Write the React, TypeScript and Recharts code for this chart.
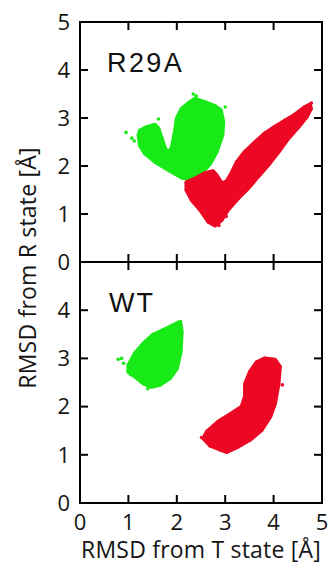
import React from 'react';
import { ScatterChart, Scatter, XAxis, YAxis } from 'recharts';

// ---- axis ticks ----
const xTicks = [0, 1, 2, 3, 4, 5];
const topYTicks = [0, 1, 2, 3, 4, 5];
const bottomYTicks = [0, 1, 2, 3, 4];
const frameYTicks = [0, 1, 2, 3, 4, 5];

// ---- R29A panel (top) ----
const r29aGreenOutline = [
  { x: 1.21, y: 2.64 }, { x: 1.24, y: 2.74 }, { x: 1.38, y: 2.81 }, { x: 1.55, y: 2.86 },
  { x: 1.62, y: 2.78 }, { x: 1.69, y: 2.57 }, { x: 1.76, y: 2.36 }, { x: 1.82, y: 2.29 },
  { x: 1.89, y: 2.36 }, { x: 1.95, y: 2.64 }, { x: 2.0, y: 2.99 }, { x: 2.1, y: 3.19 },
  { x: 2.27, y: 3.33 }, { x: 2.38, y: 3.4 }, { x: 2.58, y: 3.33 }, { x: 2.79, y: 3.25 },
  { x: 2.91, y: 3.16 }, { x: 2.96, y: 2.92 }, { x: 2.94, y: 2.64 }, { x: 2.82, y: 2.29 },
  { x: 2.69, y: 2.05 }, { x: 2.51, y: 1.85 }, { x: 2.31, y: 1.71 }, { x: 2.1, y: 1.76 },
  { x: 1.82, y: 1.92 }, { x: 1.55, y: 2.09 }, { x: 1.34, y: 2.26 }, { x: 1.24, y: 2.43 },
];
const r29aGreenStray = [
  { x: 0.95, y: 2.7 }, { x: 1.07, y: 2.58 }, { x: 1.62, y: 2.98 }, { x: 2.34, y: 3.5 },
  { x: 2.4, y: 3.46 }, { x: 3.0, y: 3.23 }, { x: 1.12, y: 2.52 },
];
const r29aRedOutline = [
  { x: 2.2, y: 1.66 }, { x: 2.38, y: 1.74 }, { x: 2.58, y: 1.85 }, { x: 2.75, y: 1.89 },
  { x: 2.82, y: 1.81 }, { x: 2.93, y: 1.64 }, { x: 3.03, y: 1.68 }, { x: 3.13, y: 1.85 },
  { x: 3.24, y: 2.08 }, { x: 3.41, y: 2.3 }, { x: 3.62, y: 2.5 }, { x: 3.82, y: 2.68 },
  { x: 4.03, y: 2.82 }, { x: 4.24, y: 2.95 }, { x: 4.44, y: 3.07 }, { x: 4.65, y: 3.23 },
  { x: 4.75, y: 3.28 }, { x: 4.77, y: 3.19 }, { x: 4.68, y: 3.02 }, { x: 4.51, y: 2.81 },
  { x: 4.3, y: 2.57 }, { x: 4.1, y: 2.29 }, { x: 3.89, y: 2.02 }, { x: 3.68, y: 1.78 },
  { x: 3.48, y: 1.54 }, { x: 3.27, y: 1.33 }, { x: 3.06, y: 1.09 }, { x: 2.93, y: 0.88 },
  { x: 2.79, y: 0.76 }, { x: 2.65, y: 0.84 }, { x: 2.48, y: 1.09 }, { x: 2.31, y: 1.29 },
  { x: 2.2, y: 1.5 },
];
const r29aRedStray = [
  { x: 4.78, y: 3.31 }, { x: 2.87, y: 0.76 }, { x: 3.02, y: 0.95 }, { x: 2.62, y: 1.8 },
];

// ---- WT panel (bottom) ----
const wtGreenOutline = [
  { x: 1.0, y: 2.86 }, { x: 1.14, y: 3.11 }, { x: 1.31, y: 3.31 }, { x: 1.51, y: 3.49 },
  { x: 1.72, y: 3.59 }, { x: 1.93, y: 3.69 }, { x: 2.07, y: 3.76 }, { x: 2.1, y: 3.55 },
  { x: 2.08, y: 3.14 }, { x: 2.0, y: 2.79 }, { x: 1.86, y: 2.59 }, { x: 1.65, y: 2.45 },
  { x: 1.48, y: 2.41 }, { x: 1.31, y: 2.48 }, { x: 1.14, y: 2.62 }, { x: 1.0, y: 2.72 },
];
const wtGreenStray = [
  { x: 0.79, y: 2.98 }, { x: 0.86, y: 3.0 }, { x: 0.9, y: 2.9 }, { x: 1.05, y: 2.66 },
  { x: 1.4, y: 2.37 },
];
const wtRedOutline = [
  { x: 3.82, y: 3.0 }, { x: 4.03, y: 2.97 }, { x: 4.13, y: 2.83 }, { x: 4.1, y: 2.47 },
  { x: 4.03, y: 2.07 }, { x: 3.93, y: 1.79 }, { x: 3.75, y: 1.51 }, { x: 3.51, y: 1.31 },
  { x: 3.27, y: 1.17 }, { x: 3.03, y: 1.06 }, { x: 2.89, y: 1.11 }, { x: 2.69, y: 1.19 },
  { x: 2.55, y: 1.34 }, { x: 2.62, y: 1.48 }, { x: 2.86, y: 1.69 }, { x: 3.13, y: 1.86 },
  { x: 3.34, y: 2.0 }, { x: 3.41, y: 2.21 }, { x: 3.41, y: 2.47 }, { x: 3.51, y: 2.72 },
  { x: 3.65, y: 2.92 },
];
const wtRedStray = [
  { x: 4.18, y: 2.45 }, { x: 2.51, y: 1.36 },
];

const GREEN = '#17ea17';
const RED = '#ec0824';
const AXIS_FONT = "'Open Sans', sans-serif";
const LABEL_FONT = "'Liberation Sans', Arial, sans-serif";
const TEXT = '#151515';
const TICK_LEN = 8;

const dot = (color: string) => (p: any) =>
  p.cx == null ? <g /> : <circle cx={p.cx} cy={p.cy} r={1.8} fill={color} />;

const axisLine = { stroke: '#000', strokeWidth: 2, strokeLinecap: 'square' as const };

// custom tick: draws the label (optional) and an inward tick mark
const makeTick = (side: 'left' | 'right' | 'top' | 'bottom', margin: number, showLabel: boolean) =>
  (props: any) => {
    const { x, y, payload } = props;
    let seg: any = null;
    if (side === 'left') seg = { x1: x + margin, x2: x + margin + TICK_LEN, y1: y, y2: y };
    if (side === 'right') seg = { x1: x - margin, x2: x - margin - TICK_LEN, y1: y, y2: y };
    if (side === 'bottom') seg = { x1: x, x2: x, y1: y - margin, y2: y - margin - TICK_LEN };
    if (side === 'top') seg = { x1: x, x2: x, y1: y + margin, y2: y + margin + TICK_LEN };
    return (
      <g>
        <line {...seg} stroke="#000" strokeWidth={2} />
        {showLabel && (
          <text
            x={x}
            y={y}
            dy={side === 'bottom' ? '0.71em' : '0.355em'}
            textAnchor={side === 'left' ? 'end' : 'middle'}
            fill={TEXT}
            fontSize={22}
            fontFamily={AXIS_FONT}
          >
            {payload.value}
          </text>
        )}
      </g>
    );
  };

// body polygon on the main axes; stray points on the (identical) top/right frame axes
function panelSeries(outline: any[], stray: any[], color: string, key: string) {
  return [
    <Scatter
      key={key + '-body'}
      data={outline}
      fill={color}
      line={{ fill: color, stroke: color, strokeWidth: 4, strokeLinejoin: 'round' }}
      lineJointType="linearClosed"
      shape={dot(color)}
      isAnimationActive={false}
    />,
    <Scatter
      key={key + '-stray'}
      xAxisId="top"
      yAxisId="right"
      data={stray}
      fill={color}
      shape={dot(color)}
      isAnimationActive={false}
    />,
  ];
}

export default function App() {
  return (
    <div style={{ position: 'absolute', left: 0, top: 0, width: 329, height: 565, background: '#fff' }}>
      <div style={{ position: 'absolute', left: 0, top: 0 }}>
        <ScatterChart width={329} height={282} margin={{ top: 21, right: 6, bottom: 19, left: 0 }}>
          <XAxis dataKey="x" type="number" domain={[0, 5]} ticks={xTicks} height={1}
            tickSize={0} tickMargin={0} tickLine={false} axisLine={axisLine}
            tick={makeTick('bottom', 0, false)} />
          <XAxis xAxisId="top" orientation="top" dataKey="x" type="number" domain={[0, 5]} ticks={xTicks}
            height={1} tickSize={0} tickMargin={0} tickLine={false} axisLine={axisLine}
            tick={makeTick('top', 0, false)} />
          <YAxis dataKey="y" type="number" domain={[0, 5]} ticks={topYTicks} width={80}
            tickSize={0} tickMargin={10} tickLine={false} axisLine={axisLine}
            tick={makeTick('left', 10, true)} />
          <YAxis yAxisId="right" orientation="right" dataKey="y" type="number" domain={[0, 5]}
            ticks={frameYTicks} width={1} tickSize={0} tickMargin={0} tickLine={false} axisLine={axisLine}
            tick={makeTick('right', 0, false)} />
          {panelSeries(r29aGreenOutline, r29aGreenStray, GREEN, 'g1')}
          {panelSeries(r29aRedOutline, r29aRedStray, RED, 'r1')}
        </ScatterChart>
      </div>
      <div style={{ position: 'absolute', left: 0, top: 252 }}>
        <ScatterChart width={329} height={313} margin={{ top: 9, right: 6, bottom: 0, left: 0 }}>
          <XAxis dataKey="x" type="number" domain={[0, 5]} ticks={xTicks} height={62}
            tickSize={0} tickMargin={11} tickLine={false} axisLine={axisLine}
            tick={makeTick('bottom', 11, true)}
            label={{ value: 'RMSD from T state [Å]', position: 'insideBottom', offset: 7,
              fill: TEXT, fontSize: 23, fontFamily: AXIS_FONT, letterSpacing: 0.2 }} />
          <XAxis xAxisId="top" orientation="top" dataKey="x" type="number" domain={[0, 5]} ticks={xTicks}
            height={1} tickSize={0} tickMargin={0} tickLine={false} axisLine={axisLine}
            tick={makeTick('top', 0, false)} />
          <YAxis dataKey="y" type="number" domain={[0, 5]} ticks={bottomYTicks} width={80}
            tickSize={0} tickMargin={10} tickLine={false} axisLine={axisLine}
            tick={makeTick('left', 10, true)} />
          <YAxis yAxisId="right" orientation="right" dataKey="y" type="number" domain={[0, 5]}
            ticks={frameYTicks} width={1} tickSize={0} tickMargin={0} tickLine={false} axisLine={axisLine}
            tick={makeTick('right', 0, false)} />
          {panelSeries(wtGreenOutline, wtGreenStray, GREEN, 'g2')}
          {panelSeries(wtRedOutline, wtRedStray, RED, 'r2')}
        </ScatterChart>
      </div>
      <svg width={329} height={565} style={{ position: 'absolute', left: 0, top: 0, pointerEvents: 'none' }}>
        <text x={27} y={268} transform="rotate(-90 27 268)" textAnchor="middle" dominantBaseline="central"
          fill={TEXT} fontSize={23} fontFamily={AXIS_FONT} letterSpacing={0.2}>
          RMSD from R state [Å]
        </text>
        <text x={107} y={72} fill="#111" fontSize={27} letterSpacing={2.4} fontFamily={LABEL_FONT}>R29A</text>
        <text x={109} y={312} fill="#111" fontSize={27} letterSpacing={2} fontFamily={LABEL_FONT}>WT</text>
      </svg>
    </div>
  );
}
